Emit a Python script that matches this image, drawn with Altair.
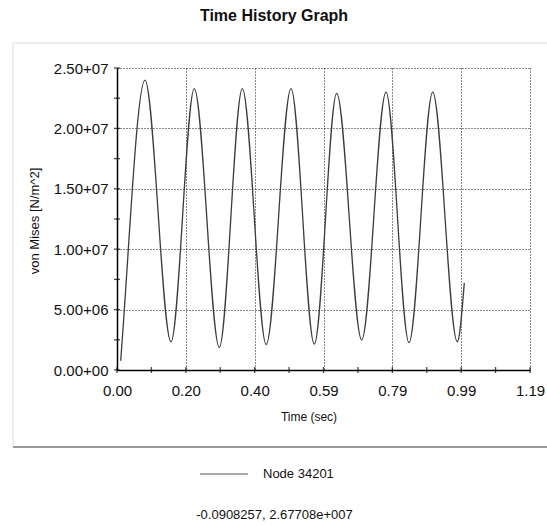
import altair as alt
import pandas as pd

# Time history of von Mises stress at one node (time in s, stress in N/m^2)
time_s = [0.0107, 0.0150, 0.0807, 0.1556, 0.2227, 0.2948, 0.3611, 0.4299,
          0.5014, 0.5685, 0.6330, 0.7051, 0.7751, 0.8414, 0.9097, 0.9805, 1.0007]
stress = [0.77e6, 2.48e6, 2.40e7, 2.34e6, 2.33e7, 1.88e6, 2.33e7, 2.11e6,
          2.33e7, 2.15e6, 2.29e7, 2.48e6, 2.30e7, 2.26e6, 2.30e7, 2.34e6, 7.21e6]

# Axis tick positions and labels
x_major = [0.0, 0.1983, 0.3967, 0.595, 0.7933, 0.9917, 1.19]
x_labels = ["0.00", "0.20", "0.40", "0.59", "0.79", "0.99", "1.19"]
x_all_ticks = [0.0, 0.0992, 0.1983, 0.2975, 0.3967, 0.4958, 0.595, 0.6942,
               0.7933, 0.8925, 0.9917, 1.0908, 1.19]
y_major = [0, 5e6, 1e7, 1.5e7, 2e7, 2.5e7]
y_labels = ["0.00+00", "5.00+06", "1.00+07", "1.50+07", "2.00+07", "2.50+07"]
y_all_ticks = [0, 2.5e6, 5e6, 7.5e6, 1e7, 1.25e7, 1.5e7, 1.75e7, 2e7, 2.25e7, 2.5e7]

title_text = "Time History Graph"
x_title = "Time (sec)"
y_title = "von Mises [N/m^2]"
series_name = "Node 34201"
cursor_text = "-0.0908257, 2.67708e+007"

FONT = "Liberation Sans"
W, H = 413, 302


def label_expr(values, labels):
    expr = "''"
    for v, lab in reversed(list(zip(values, labels))):
        expr = f"abs(datum.value - {v}) < 1e-6 * (1 + abs({v})) ? '{lab}' : ({expr})"
    return expr


x_scale = alt.Scale(domain=[0, 1.19], nice=False, zero=False)
y_scale = alt.Scale(domain=[0, 2.5e7], nice=False, zero=False)

grid_style = dict(grid=True, gridDash=[1, 2], gridColor="#111", gridWidth=1,
                  gridOpacity=1, ticks=False, domainColor="#000",
                  domainWidth=1.5, labelFont=FONT, labelFontSize=15,
                  labelColor="#111", labelFlush=False, labelOverlap=False,
                  title=None)

x_axis = alt.Axis(values=x_major, labelExpr=label_expr(x_major, x_labels),
                  labelPadding=13, **grid_style)
y_axis = alt.Axis(values=y_major, labelExpr=label_expr(y_major, y_labels),
                  labelPadding=9, **grid_style)

one = alt.Data(values=[{}])

# Framed panel around the plot (outline only, so axes and grid stay visible)
panel = alt.Chart(one).mark_rect(fillOpacity=0, stroke="#dcdcdc", strokeWidth=1).encode(
    x=alt.value(-104), x2=alt.value(445), y=alt.value(-25), y2=alt.value(379)
)
panel_shadow = alt.Chart(one).mark_rule(color="#9a9a9a", strokeWidth=2).encode(
    x=alt.value(-104), x2=alt.value(445), y=alt.value(379)
)

df = pd.DataFrame({"t": time_s, "v": stress})
series = alt.Chart(df).mark_line(
    interpolate="monotone", color="#3c3c3c", strokeWidth=1.3
).encode(
    x=alt.X("t:Q", scale=x_scale, axis=x_axis),
    y=alt.Y("v:Q", scale=y_scale, axis=y_axis),
)

# Tick marks that straddle the axis lines
x_ticks = alt.Chart(pd.DataFrame({"t": x_all_ticks})).mark_tick(
    orient="vertical", size=6, thickness=1.3, color="#000"
).encode(x=alt.X("t:Q", scale=x_scale, axis=x_axis), y=alt.value(H))
y_ticks = alt.Chart(pd.DataFrame({"v": y_all_ticks})).mark_tick(
    orient="horizontal", size=6, thickness=1.3, color="#000"
).encode(y=alt.Y("v:Q", scale=y_scale, axis=y_axis), x=alt.value(0))

title = alt.Chart(one).mark_text(
    text=title_text, font=FONT, fontSize=16, fontWeight="bold", color="#111"
).encode(x=alt.value(157), y=alt.value(-52))

xt = alt.Chart(one).mark_text(
    text=x_title, font=FONT, fontSize=12, color="#111"
).encode(x=alt.value(192), y=alt.value(349))

yt = alt.Chart(one).mark_text(
    text=y_title, font=FONT, fontSize=13, color="#111", angle=270
).encode(x=alt.value(-82), y=alt.value(153))

legend_line = alt.Chart(one).mark_rule(color="#555", strokeWidth=1.2).encode(
    x=alt.value(83), x2=alt.value(131), y=alt.value(406)
)
legend_text = alt.Chart(one).mark_text(
    text=series_name, font=FONT, fontSize=13, color="#111", align="left"
).encode(x=alt.value(146), y=alt.value(406))

cursor = alt.Chart(one).mark_text(
    text=cursor_text, font=FONT, fontSize=13, color="#111"
).encode(x=alt.value(157.5), y=alt.value(447))

chart = alt.layer(
    panel, panel_shadow, series, x_ticks, y_ticks, title, xt, yt,
    legend_line, legend_text, cursor
).properties(
    width=W, height=H,
    autosize=alt.AutoSizeParams(type="none"),
    padding={"left": 117, "top": 68, "right": 17, "bottom": 156},
    background="white",
).configure_view(stroke=None)

chart.save("out.html", embed_options={"renderer": "svg", "actions": False})
